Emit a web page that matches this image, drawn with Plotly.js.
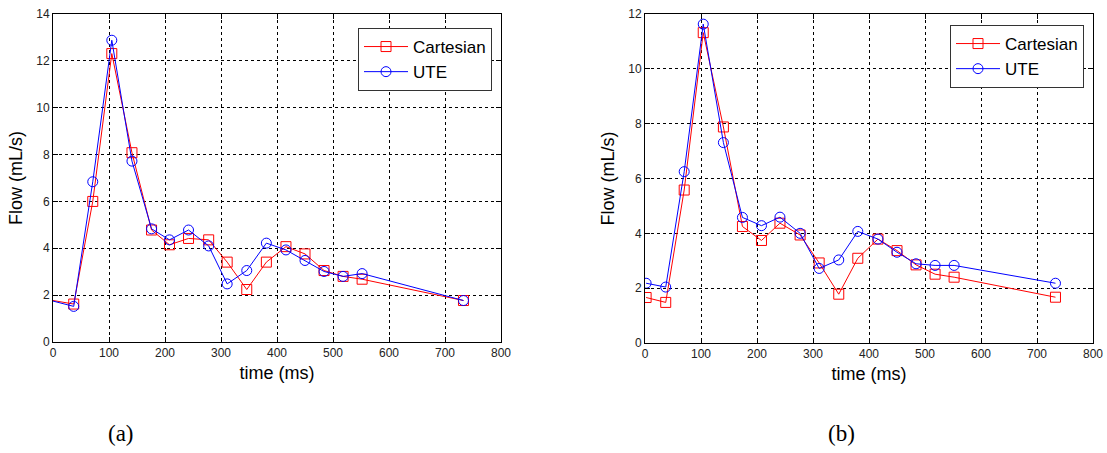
<!DOCTYPE html>
<html><head><meta charset="utf-8">
<script src="https://cdn.plot.ly/plotly-3.0.1.min.js"></script>
<style>html,body{margin:0;padding:0;background:#fff}#c{width:1107px;height:453px}</style>
</head><body><div id="c"></div>
<script>
// Panel (a)
const timeA = [-12, 37, 71, 105, 141, 176, 208, 242, 278, 311, 346, 381, 416, 450, 484, 518, 552, 733];
const cartA = [1.82, 1.62, 6.0, 12.31, 8.08, 4.78, 4.15, 4.42, 4.36, 3.41, 2.24, 3.41, 4.07, 3.76, 3.05, 2.80, 2.68, 1.77];
const uteA  = [1.82, 1.52, 6.84, 12.88, 7.72, 4.83, 4.36, 4.78, 4.10, 2.48, 3.05, 4.22, 3.93, 3.48, 3.01, 2.80, 2.92, 1.77];
// Panel (b)
const timeB = [2, 37, 70, 104, 140, 174, 208, 241, 277, 311, 346, 380, 416, 450, 484, 518, 552, 733];
const cartB = [1.66, 1.48, 5.58, 11.32, 7.88, 4.25, 3.74, 4.37, 3.94, 2.92, 1.78, 3.09, 3.79, 3.37, 2.85, 2.51, 2.40, 1.67];
const uteB  = [2.18, 2.04, 6.25, 11.63, 7.31, 4.58, 4.28, 4.59, 4.00, 2.72, 3.03, 4.07, 3.79, 3.31, 2.89, 2.83, 2.83, 2.18];
const seriesNames = ['Cartesian', 'UTE'];
const captions = ['(a)', '(b)'];

const RED = '#ff0000', BLUE = '#0000ff';
function tr(x, y, name, color, sym, xa, ya, leg, show) {
  return {x: x, y: y, name: name, type: 'scatter', mode: 'lines+markers',
    xaxis: xa, yaxis: ya, legend: leg, showlegend: show,
    line: {color: color, width: 1},
    marker: {symbol: sym, size: 10, color: color, line: {color: color, width: 1}}};
}
const data = [
  tr(timeA, cartA, seriesNames[0], RED, 'square-open', 'x', 'y', 'legend', true),
  tr(timeA, uteA, seriesNames[1], BLUE, 'circle-open', 'x', 'y', 'legend', true),
  tr(timeB, cartB, seriesNames[0], RED, 'square-open', 'x2', 'y2', 'legend2', true),
  tr(timeB, uteB, seriesNames[1], BLUE, 'circle-open', 'x2', 'y2', 'legend2', true)
];
const W = 1107, H = 453;
const tickFont = {family: 'Arial, Liberation Sans, sans-serif', size: 12, color: '#222'};
const titleFont = {family: 'Arial, Liberation Sans, sans-serif', size: 18, color: '#000'};
function xax(dom, anchor) {
  return {domain: dom, anchor: anchor, range: [0, 800], dtick: 100, tick0: 0,
    showgrid: true, gridcolor: '#000', griddash: 'dot', gridwidth: 1,
    zeroline: false, showline: true, linecolor: '#000', linewidth: 1, mirror: 'ticks',
    ticks: 'inside', ticklen: 5, tickcolor: '#000', tickfont: tickFont,
    title: {text: 'time (ms)', font: titleFont, standoff: 6}};
}
function yax(dom, anchor, max) {
  return {domain: dom, anchor: anchor, range: [0, max], dtick: 2, tick0: 0,
    showgrid: true, gridcolor: '#000', griddash: 'dot', gridwidth: 1,
    zeroline: false, showline: true, linecolor: '#000', linewidth: 1, mirror: 'ticks',
    ticks: 'inside', ticklen: 5, tickcolor: '#000', tickfont: tickFont,
    title: {text: 'Flow (mL/s)', font: titleFont, standoff: 8}};
}
const legFont = {family: 'Arial, Liberation Sans, sans-serif', size: 17, color: '#000'};
const layout = {
  width: W, height: H, margin: {l: 0, r: 0, t: 0, b: 0},
  paper_bgcolor: '#fff', plot_bgcolor: '#fff',
  xaxis: xax([53 / W, 501 / W], 'y'),
  yaxis: yax([1 - 342 / H, 1 - 14 / H], 'x', 14),
  xaxis2: xax([645 / W, 1093 / W], 'y2'),
  yaxis2: yax([1 - 343 / H, 1 - 14 / H], 'x2', 12),
  legend: {x: 358 / W, y: 1 - 28 / H, xanchor: 'left', yanchor: 'top', bgcolor: '#fff',
    bordercolor: '#333', borderwidth: 1, font: legFont, tracegroupgap: 0, itemwidth: 44},
  legend2: {x: 950 / W, y: 1 - 25 / H, xanchor: 'left', yanchor: 'top', bgcolor: '#fff',
    bordercolor: '#333', borderwidth: 1, font: legFont, tracegroupgap: 0, itemwidth: 44},
  annotations: [
    {text: captions[0], xref: 'paper', yref: 'paper', x: 121 / W, y: 1 - 433 / H, showarrow: false,
      font: {family: 'Liberation Serif, serif', size: 23, color: '#000'}, xanchor: 'center', yanchor: 'middle'},
    {text: captions[1], xref: 'paper', yref: 'paper', x: 841 / W, y: 1 - 433 / H, showarrow: false,
      font: {family: 'Liberation Serif, serif', size: 23, color: '#000'}, xanchor: 'center', yanchor: 'middle'}
  ]
};
Plotly.newPlot('c', data, layout, {displayModeBar: false, staticPlot: true});
</script></body></html>
